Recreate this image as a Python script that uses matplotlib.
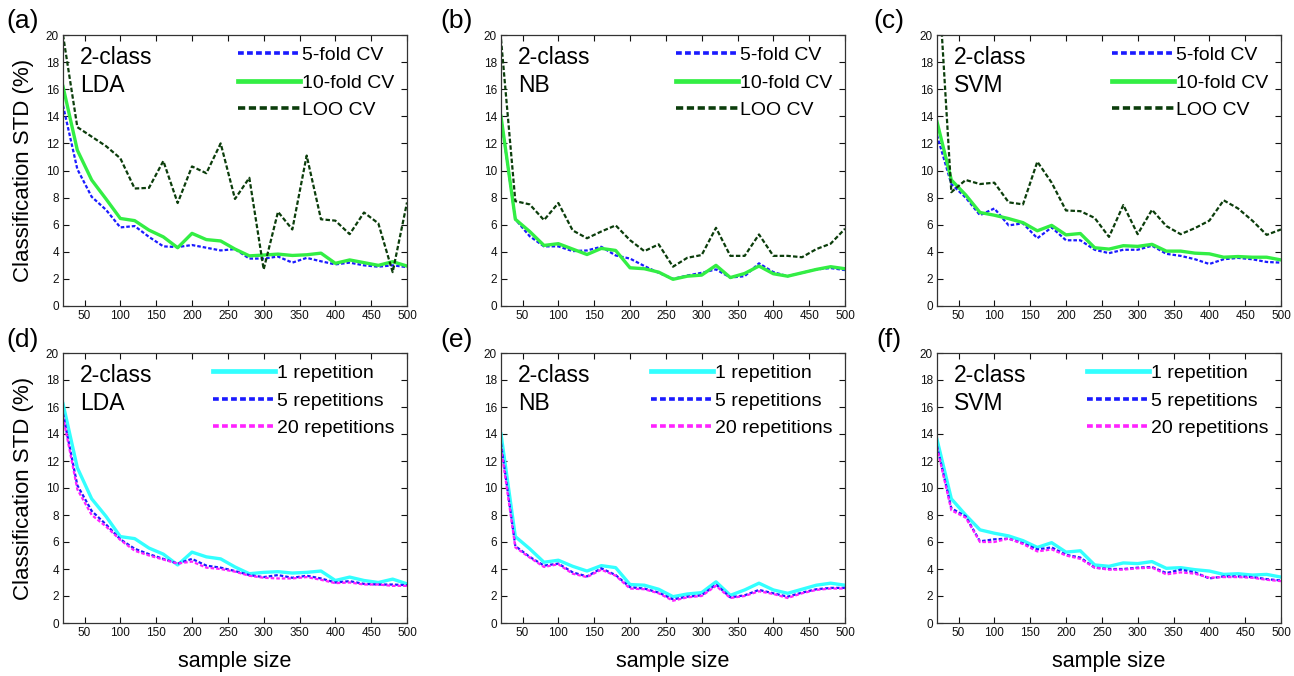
import matplotlib
matplotlib.use('Agg')
import matplotlib.pyplot as plt

plt.rcParams['font.family'] = ['Liberation Sans', 'DejaVu Sans']

sample_size = [20, 40, 60, 80, 100, 120, 140, 160, 180, 200, 220, 240, 260,
               280, 300, 320, 340, 360, 380, 400, 420, 440, 460, 480, 500]

# top row: cross validation type
lda_5fold = [14.8, 10.1, 8.06, 7.1, 5.8, 5.9, 5.1, 4.4, 4.35, 4.5, 4.3, 4.1, 4.2,
             3.5, 3.5, 3.65, 3.2, 3.55, 3.3, 3.07, 3.2, 3.0, 2.9, 3.0, 2.87]
lda_10fold = [16.2, 11.5, 9.3, 7.9, 6.46, 6.3, 5.6, 5.1, 4.3, 5.36, 4.9, 4.8, 4.2,
              3.7, 3.76, 3.83, 3.73, 3.78, 3.9, 3.15, 3.4, 3.2, 3.0, 3.27, 2.95]
lda_loo = [20.0, 13.2, 12.5, 11.8, 10.9, 8.67, 8.72, 10.7, 7.6, 10.3, 9.8, 12.0, 7.9,
           9.46, 2.7, 6.95, 5.65, 11.1, 6.4, 6.3, 5.3, 6.9, 6.1, 2.5, 7.64]

nb_5fold = [13.9, 6.4, 5.15, 4.4, 4.4, 4.05, 4.1, 4.37, 3.73, 3.5, 2.95, 2.45, 2.0,
            2.25, 2.45, 2.7, 2.1, 2.2, 3.15, 2.5, 2.2, 2.45, 2.7, 2.8, 2.65]
nb_10fold = [14.0, 6.4, 5.5, 4.47, 4.6, 4.2, 3.8, 4.25, 4.1, 2.82, 2.75, 2.5, 1.97,
             2.2, 2.28, 3.0, 2.1, 2.4, 2.95, 2.38, 2.2, 2.45, 2.7, 2.9, 2.75]
nb_loo = [19.7, 7.74, 7.5, 6.34, 7.6, 5.58, 5.0, 5.5, 5.95, 4.86, 4.05, 4.55, 2.9,
          3.56, 3.76, 5.77, 3.7, 3.7, 5.28, 3.7, 3.7, 3.6, 4.2, 4.6, 5.7]

svm_5fold = [12.6, 9.0, 8.0, 6.7, 7.2, 5.95, 6.1, 5.0, 5.8, 4.85, 4.85, 4.15, 3.9,
             4.15, 4.15, 4.45, 3.85, 3.7, 3.45, 3.1, 3.45, 3.55, 3.45, 3.25, 3.2]
svm_10fold = [13.6, 9.3, 8.2, 6.9, 6.7, 6.45, 6.15, 5.55, 5.95, 5.25, 5.35, 4.3, 4.2,
              4.45, 4.4, 4.55, 4.05, 4.05, 3.9, 3.85, 3.6, 3.65, 3.6, 3.6, 3.4]
svm_loo = [26.0, 8.4, 9.3, 9.0, 9.1, 7.65, 7.5, 10.65, 9.1, 7.05, 7.0, 6.5, 5.1,
           7.45, 5.3, 7.1, 5.9, 5.3, 5.75, 6.3, 7.8, 7.2, 6.3, 5.25, 5.65]

# bottom row: number of repetitions
lda_rep1 = [16.25, 11.5, 9.2, 7.9, 6.4, 6.25, 5.55, 5.1, 4.3, 5.25, 4.9, 4.75, 4.15,
            3.65, 3.75, 3.8, 3.7, 3.75, 3.85, 3.15, 3.4, 3.15, 3.0, 3.25, 2.9]
lda_rep5 = [15.5, 10.2, 8.3, 7.3, 6.2, 5.5, 5.1, 4.75, 4.4, 4.75, 4.25, 4.1, 3.85,
            3.55, 3.4, 3.55, 3.35, 3.5, 3.3, 3.0, 3.1, 2.9, 2.85, 2.85, 2.8]
lda_rep20 = [15.3, 9.9, 8.0, 7.15, 6.15, 5.35, 5.0, 4.7, 4.4, 4.55, 4.1, 4.0, 3.8,
             3.5, 3.35, 3.3, 3.3, 3.4, 3.2, 2.95, 3.0, 2.85, 2.85, 2.75, 2.75]

nb_rep1 = [14.0, 6.4, 5.5, 4.5, 4.65, 4.2, 3.85, 4.25, 4.1, 2.85, 2.8, 2.5, 1.95,
           2.15, 2.25, 3.05, 2.05, 2.45, 2.95, 2.45, 2.2, 2.5, 2.8, 2.95, 2.8]
nb_rep5 = [13.3, 5.7, 4.9, 4.25, 4.4, 3.75, 3.45, 4.05, 3.55, 2.65, 2.55, 2.25, 1.75,
           1.95, 2.05, 2.85, 1.9, 2.05, 2.45, 2.2, 1.95, 2.25, 2.5, 2.6, 2.6]
nb_rep20 = [13.0, 5.6, 4.85, 4.15, 4.35, 3.65, 3.4, 3.95, 3.5, 2.55, 2.5, 2.2, 1.65,
            1.9, 2.0, 2.75, 1.85, 2.0, 2.35, 2.15, 1.85, 2.2, 2.45, 2.55, 2.55]

svm_rep1 = [13.6, 9.2, 8.0, 6.9, 6.65, 6.45, 6.1, 5.6, 5.95, 5.25, 5.35, 4.3, 4.2,
            4.45, 4.4, 4.55, 4.05, 4.1, 3.95, 3.85, 3.6, 3.65, 3.55, 3.6, 3.4]
svm_rep5 = [13.1, 8.5, 7.9, 6.05, 6.2, 6.25, 5.9, 5.45, 5.6, 5.05, 4.85, 4.1, 4.0,
            4.0, 4.1, 4.15, 3.7, 3.95, 3.75, 3.3, 3.45, 3.45, 3.4, 3.25, 3.15]
svm_rep20 = [13.0, 8.35, 7.8, 6.0, 6.0, 6.25, 5.85, 5.3, 5.45, 5.0, 4.75, 4.1, 3.95,
             3.95, 4.05, 4.1, 3.6, 3.75, 3.65, 3.35, 3.4, 3.4, 3.35, 3.2, 3.1]

classifiers = ['LDA', 'NB', 'SVM']
cv_labels = ['5-fold CV', '10-fold CV', 'LOO CV']
rep_labels = ['1 repetition', '5 repetitions', '20 repetitions']
cv_data = [[lda_5fold, lda_10fold, lda_loo],
           [nb_5fold, nb_10fold, nb_loo],
           [svm_5fold, svm_10fold, svm_loo]]
rep_data = [[lda_rep1, lda_rep5, lda_rep20],
            [nb_rep1, nb_rep5, nb_rep20],
            [svm_rep1, svm_rep5, svm_rep20]]

dots = (0, (1.6, 0.9))
cv_styles = [dict(color='#1a1aff', ls=dots, lw=1.6),
             dict(color='#33ee44', ls='-', lw=2.4),
             dict(color='#0b3d0b', ls=(0, (2.0, 1.0)), lw=1.6)]
rep_styles = [dict(color='#33ffff', ls='-', lw=2.4),
              dict(color='#1a1aff', ls=dots, lw=1.6),
              dict(color='#ff22ff', ls=dots, lw=1.6)]

W, H = 1294, 676
fig = plt.figure(figsize=(W / 100, H / 100), dpi=100)
lefts = [63, 501, 937]
aw = 344
rows = [(35, 306), (353, 623)]
panel_letters = [['(a)', '(b)', '(c)'], ['(d)', '(e)', '(f)']]
letter_x = [23, 457, 889]
letter_y = [21, 340]


def style_axis(ax):
    ax.set_xlim(20, 500)
    ax.set_ylim(0, 20)
    ax.set_xticks(range(50, 501, 50))
    ax.set_yticks(range(0, 21, 2))
    ax.tick_params(direction='in', top=True, right=True, labelsize=8.5,
                   length=4, width=0.8, pad=3, colors='#111111')
    for s in ax.spines.values():
        s.set_linewidth(0.9)
        s.set_color('#333333')


for r, (top, bottom) in enumerate(rows):
    data = cv_data if r == 0 else rep_data
    labels = cv_labels if r == 0 else rep_labels
    styles = cv_styles if r == 0 else rep_styles
    for c in range(3):
        ax = fig.add_axes([lefts[c] / W, 1 - bottom / H, aw / W, (bottom - top) / H])
        for series, lab, st in zip(data[c], labels, styles):
            ax.plot(sample_size, series, label=lab, **st)
        style_axis(ax)
        ax.text(0.05, 0.96, '2-class\n' + classifiers[c], transform=ax.transAxes,
                ha='left', va='top', fontsize=16.5, linespacing=1.3)
        leg = ax.legend(loc='upper right', frameon=False, fontsize=14,
                        handlelength=3.2, handletextpad=0.1, labelspacing=0.5,
                        borderaxespad=0.2, bbox_to_anchor=(0.997, 1.0))
        for h in leg.get_lines():
            h.set_linewidth(h.get_linewidth() + 1.0)
        fig.text(letter_x[c] / W, 1 - letter_y[r] / H, panel_letters[r][c],
                 fontsize=19, ha='center', va='center')
        if r == 1:
            fig.text((lefts[c] + aw / 2) / W, 1 - 662 / H, 'sample size',
                     fontsize=15.5, ha='center', va='center')
    fig.text(24 / W, 1 - (top + bottom) / 2 / H, 'Classification STD (%)',
             rotation=90, fontsize=16, ha='center', va='center')

fig.savefig('out.png', dpi=100)
